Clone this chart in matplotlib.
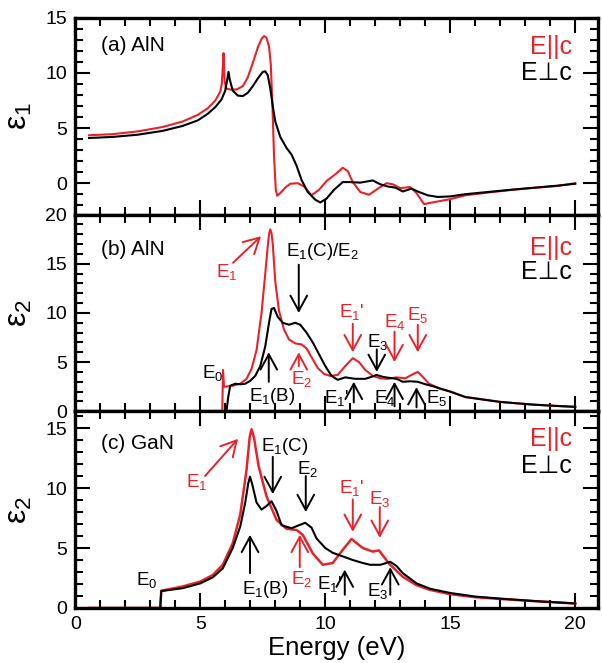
import matplotlib
matplotlib.use('Agg')
import matplotlib.pyplot as plt
from matplotlib.ticker import MultipleLocator

plt.rcParams['font.family'] = ['Liberation Sans', 'DejaVu Sans']
plt.rcParams['mathtext.fontset'] = 'custom'
plt.rcParams['mathtext.rm'] = 'Liberation Sans'
plt.rcParams['mathtext.default'] = 'regular'

RED = '#e8222a'
BLACK = 'black'

# (a) AlN, eps1
a_par_x = [0.55, 1.5, 2.5, 3.5, 4.3, 4.9, 5.3, 5.6, 5.8, 5.86, 5.9, 5.93, 5.97, 6.03,
           6.2, 6.45, 6.7, 6.9, 7.1, 7.3, 7.45, 7.55, 7.65, 7.75, 7.82, 7.88, 7.95,
           8.02, 8.08, 8.2, 8.4, 8.6, 8.9, 9.15, 9.45, 9.75, 10.05, 10.4, 10.7, 10.9,
           11.1, 11.4, 11.75, 12.1, 12.45, 12.7, 13.0, 13.4, 13.65, 13.95, 14.4, 15.0,
           15.6, 16.5, 17.5, 18.5, 19.3, 20.0]
a_par_y = [4.35, 4.45, 4.7, 5.1, 5.6, 6.2, 6.8, 7.5, 8.3, 9.0, 10.5, 11.8, 9.4, 8.6,
           8.5, 8.5, 8.8, 9.6, 10.9, 12.3, 13.1, 13.35, 13.2, 12.4, 10.8, 7.5, 2.5,
           -0.6, -1.15, -0.9, -0.4, -0.05, 0.0, -0.3, -1.1, -0.6, 0.2, 0.8, 1.4, 1.1,
           0.1, -0.8, -1.05, -0.5, 0.0, -0.1, -0.45, -0.35, -0.9, -1.9, -1.7, -1.45,
           -1.1, -0.85, -0.6, -0.4, -0.25, 0.0]
a_perp_x = [0.55, 1.5, 2.5, 3.5, 4.3, 4.9, 5.3, 5.6, 5.85, 6.0, 6.08, 6.13, 6.18, 6.3,
            6.5, 6.7, 6.9, 7.1, 7.3, 7.5, 7.6, 7.7, 7.8, 7.9, 8.0, 8.2, 8.45, 8.65,
            8.85, 9.05, 9.3, 9.6, 9.8, 10.05, 10.35, 10.7, 11.0, 11.4, 11.9, 12.2,
            12.5, 12.8, 13.1, 13.45, 13.75, 14.1, 14.5, 15.0, 15.6, 16.5, 17.5, 18.5,
            19.3, 20.0]
a_perp_y = [4.1, 4.2, 4.4, 4.75, 5.2, 5.7, 6.3, 6.9, 7.6, 8.4, 9.4, 10.1, 9.4, 8.4,
            7.95, 7.9, 8.2, 8.8, 9.5, 10.1, 10.15, 9.8, 8.6, 7.0, 5.6, 4.2, 3.2, 2.6,
            1.6, 0.3, -0.8, -1.5, -1.75, -1.4, -0.6, 0.1, 0.1, 0.05, 0.25, -0.1,
            -0.3, -0.4, -0.75, -0.5, -0.8, -1.1, -1.25, -1.2, -1.0, -0.8, -0.58, -0.38,
            -0.22, -0.05]

# (b) AlN, eps2
b_par_x = [0.55, 5.88, 5.91, 5.95, 6.0, 6.3, 6.6, 6.85, 7.05, 7.25, 7.45, 7.6, 7.7,
           7.75, 7.8, 7.85, 7.9, 8.0, 8.15, 8.35, 8.55, 8.8, 9.05, 9.25, 9.45, 9.7,
           9.95, 10.2, 10.5, 10.8, 11.1, 11.35, 11.6, 11.9, 12.2, 12.5, 12.85, 13.2,
           13.45, 13.7, 13.9, 14.15, 14.6, 15.0, 15.6, 16.3, 17.0, 18.3, 19.2, 20.0]
b_par_y = [0, 0, 4.2, 2.5, 2.5, 2.6, 2.8, 3.3, 4.3, 6.2, 10.0, 14.0, 16.8, 18.0,
           18.5, 18.1, 17.0, 13.2, 10.2, 8.3, 7.3, 6.9, 6.8, 6.4, 5.5, 4.4, 3.8,
           3.6, 3.7, 4.6, 5.4, 5.0, 4.2, 3.6, 3.35, 3.3, 3.45, 3.35, 3.7, 4.0, 3.5,
           2.8, 2.3, 2.0, 1.45, 1.2, 0.95, 0.68, 0.55, 0.45]
b_perp_x = [0.55, 6.05, 6.12, 6.2, 6.4, 6.6, 6.8, 7.0, 7.2, 7.4, 7.6, 7.75, 7.85, 7.95,
            8.1, 8.3, 8.55, 8.8, 9.0, 9.25, 9.5, 9.75, 10.0, 10.25, 10.5, 10.8, 11.2,
            11.6, 11.85, 12.05, 12.3, 12.55, 12.85, 13.1, 13.4, 13.7, 14.0, 14.3,
            14.6, 15.0, 15.6, 16.3, 17.0, 18.3, 19.2, 20.0]
b_perp_y = [0, 0, 1.5, 2.6, 2.8, 2.75, 2.8, 3.1, 3.6, 4.6, 6.6, 9.0, 10.4, 10.5, 9.6,
            9.0, 8.8, 9.0, 8.8, 8.0, 7.0, 5.8, 4.6, 3.6, 3.2, 3.45, 3.3, 3.3, 3.5,
            3.7, 3.5, 3.4, 3.3, 3.0, 3.05, 3.0, 2.75, 2.55, 2.3, 2.0, 1.45, 1.2, 0.95,
            0.68, 0.55, 0.45]

# (c) GaN, eps2
c_par_x = [0.55, 3.4, 3.44, 3.6, 4.3, 5.0, 5.5, 5.9, 6.3, 6.6, 6.85, 6.98, 7.05, 7.15,
           7.33, 7.65, 8.05, 8.45, 8.85, 9.1, 9.5, 9.9, 10.3, 10.7, 11.05, 11.5, 11.9,
           12.15, 12.55, 13.1, 13.65, 14.2, 15.0, 16.0, 17.0, 18.5, 20.0]
c_par_y = [0, 0, 1.45, 1.5, 1.8, 2.2, 2.75, 3.6, 5.4, 7.8, 11.5, 14.3, 14.9, 14.2,
           11.85, 9.3, 7.35, 6.6, 6.5, 6.1, 4.55, 3.6, 3.75, 4.85, 5.75, 5.0, 4.7,
           4.8, 3.7, 2.6, 1.9, 1.5, 1.15, 0.9, 0.75, 0.55, 0.37]
c_perp_x = [0.55, 3.4, 3.44, 3.6, 4.3, 5.0, 5.5, 5.9, 6.3, 6.6, 6.8, 6.92, 6.99, 7.08,
            7.25, 7.45, 7.65, 7.85, 8.05, 8.25, 8.65, 8.95, 9.2, 9.45, 9.65, 10.0,
            10.3, 10.7, 11.1, 11.5, 11.8, 12.2, 12.6, 12.85, 13.1, 13.65, 14.2, 15.0,
            16.0, 17.0, 18.5, 20.0]
c_perp_y = [0, 0, 1.4, 1.45, 1.65, 2.05, 2.55, 3.3, 5.0, 6.8, 8.8, 10.4, 10.95, 10.3,
            8.8, 8.2, 8.5, 8.9, 8.1, 6.9, 6.65, 6.9, 7.1, 6.7, 5.8, 5.0, 4.6, 4.3,
            4.0, 3.75, 3.6, 3.6, 3.85, 3.5, 2.9, 2.05, 1.6, 1.25, 0.95, 0.78, 0.56,
            0.38]

# annotations: (text, colour, text xy, arrow start, arrow end); arrow None = no arrow
b_notes = [
    ('E$_1$', RED, (6.07, 14.2), (6.31, 15.1), (7.43, 17.8)),
    ('E$_1$(C)/E$_2$', BLACK, (9.9, 16.2), (8.94, 14.9), (8.94, 10.0)),
    ('E$_1$(B)', BLACK, (7.86, 1.5), (7.74, 3.0), (7.74, 6.0)),
    ('E$_2$', RED, (9.06, 3.3), (8.94, 4.6), (8.94, 6.0)),
    ('E$_0$', BLACK, (5.5, 3.9), None, None),
    ("E$_1$'", RED, (11.06, 10.1), (11.1, 8.9), (11.1, 6.0)),
    ('E$_3$', BLACK, (12.1, 7.0), (12.06, 6.3), (12.06, 4.0)),
    ('E$_4$', RED, (12.77, 9.1), (12.77, 8.1), (12.77, 5.0)),
    ('E$_5$', RED, (13.7, 9.8), (13.7, 8.8), (13.7, 6.0)),
    ("E$_1$'", BLACK, (10.46, 1.4), (11.14, 0.9), (11.14, 3.0)),
    ('E$_4$', BLACK, (12.37, 1.3), (12.77, 0.5), (12.77, 3.0)),
    ('E$_5$', BLACK, (14.45, 1.4), (13.65, 0.4), (13.65, 2.45)),
]
c_notes = [
    ('E$_1$', RED, (4.87, 10.5), (5.19, 11.0), (6.51, 14.1)),
    ('E$_1$(C)', BLACK, (8.38, 13.5), (7.9, 12.6), (7.9, 9.5)),
    ('E$_2$', BLACK, (9.3, 11.6), (9.22, 11.0), (9.22, 8.0)),
    ('E$_1$(B)', BLACK, (7.58, 1.5), (6.99, 2.9), (6.99, 6.1)),
    ('E$_2$', RED, (9.06, 2.4), (8.98, 3.4), (8.98, 6.1)),
    ('E$_0$', BLACK, (2.87, 2.3), None, None),
    ("E$_1$'", RED, (11.06, 10.0), (11.1, 9.05), (11.1, 6.35)),
    ('E$_3$', RED, (12.18, 9.1), (12.18, 8.4), (12.18, 5.85)),
    ("E$_1$'", BLACK, (10.18, 2.0), (10.78, 1.1), (10.78, 3.2)),
    ('E$_3$', BLACK, (12.1, 1.4), (12.6, 1.1), (12.6, 3.4)),
]


def style_axis(ax, ylim, ylabel, tag):
    ax.set_xlim(0, 20.9)
    ax.set_ylim(*ylim)
    ax.xaxis.set_major_locator(MultipleLocator(5))
    ax.xaxis.set_minor_locator(MultipleLocator(1))
    ax.yaxis.set_major_locator(MultipleLocator(5))
    ax.yaxis.set_minor_locator(MultipleLocator(1))
    ax.tick_params(which='both', direction='in', top=True, right=True,
                   labelsize=14, width=1.5)
    ax.tick_params(which='major', length=11, pad=6)
    ax.tick_params(which='minor', length=5.5)
    for sp in ax.spines.values():
        sp.set_linewidth(2.4)
    ax.set_ylabel(ylabel, fontsize=23, labelpad=8)
    ax.text(0.05, tag[1], tag[0], transform=ax.transAxes, fontsize=15,
            va='center', ha='left')
    ax.text(0.95, tag[2], 'E||c', transform=ax.transAxes, fontsize=18,
            color=RED, ha='right', va='center')
    ax.text(0.95, tag[3], 'E\u22a5c', transform=ax.transAxes, fontsize=18,
            color=BLACK, ha='right', va='center')


def add_notes(ax, notes):
    for label, col, txy, start, end in notes:
        ax.text(txy[0], txy[1], label, color=col, fontsize=13.5,
                ha='center', va='center')
        if start is not None:
            ax.annotate('', xy=end, xytext=start,
                        arrowprops=dict(arrowstyle='->, head_length=0.55, head_width=0.3',
                                        color=col, lw=1.4, mutation_scale=20,
                                        shrinkA=0, shrinkB=0))


fig = plt.figure(figsize=(6.02, 6.63), dpi=100)
gs = fig.add_gridspec(3, 1, left=0.125, right=0.993, bottom=0.083, top=0.973,
                      hspace=0)
ax_a = fig.add_subplot(gs[0])
ax_b = fig.add_subplot(gs[1], sharex=ax_a)
ax_c = fig.add_subplot(gs[2], sharex=ax_a)

ax_a.plot(a_par_x, a_par_y, color=RED, lw=1.5)
ax_a.plot(a_perp_x, a_perp_y, color=BLACK, lw=1.5)
ax_b.plot(b_par_x, b_par_y, color=RED, lw=1.5)
ax_b.plot(b_perp_x, b_perp_y, color=BLACK, lw=1.5)
ax_c.plot(c_par_x, c_par_y, color=RED, lw=1.8)
ax_c.plot(c_perp_x, c_perp_y, color=BLACK, lw=1.5)

style_axis(ax_a, (-2.85, 15), '\u03b5$_1$', ('(a) AlN', 0.86, 0.85, 0.72))
style_axis(ax_b, (0, 20), '\u03b5$_2$', ('(b) AlN', 0.82, 0.83, 0.71))
style_axis(ax_c, (0, 16.4), '\u03b5$_2$', ('(c) GaN', 0.835, 0.86, 0.72))

add_notes(ax_b, b_notes)
add_notes(ax_c, c_notes)

for ax in (ax_a, ax_b):
    ax.tick_params(labelbottom=False)
ax_c.set_xticks([0, 5, 10, 15, 20])
ax_c.set_xlabel('Energy (eV)', fontsize=18.5, labelpad=2)

fig.align_ylabels([ax_a, ax_b, ax_c])
fig.savefig('out.png', dpi=100)
